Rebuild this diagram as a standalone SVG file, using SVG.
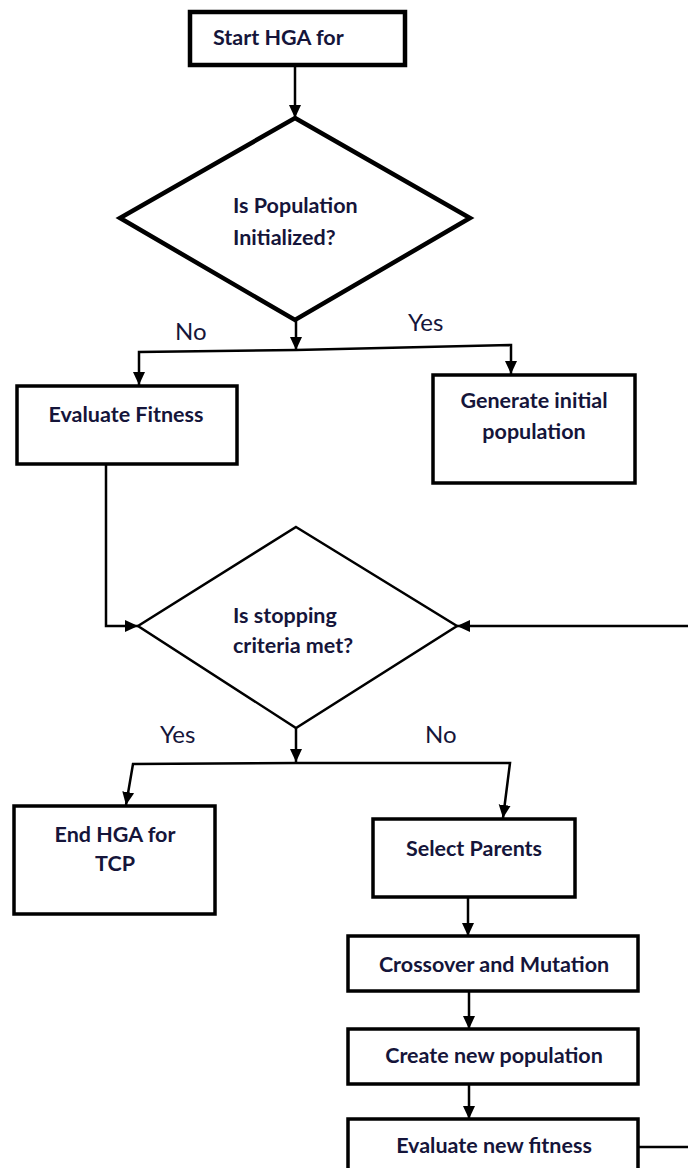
<svg xmlns="http://www.w3.org/2000/svg" width="688" height="1168" viewBox="0 0 688 1168">
<style>
.box{fill:#fff;stroke:#000;stroke-width:3.5}
.thick{stroke-width:4.5}
.dia2{fill:#fff;stroke:#000;stroke-width:2.5}
.t{font-family:Lato,"Open Sans","Liberation Sans",sans-serif;font-weight:bold;font-size:21.5px;fill:#15153a}
.c{text-anchor:middle}
.lbl{font-family:Lato,"Open Sans","Liberation Sans",sans-serif;font-size:24px;fill:#15153a}
.con{fill:none;stroke:#000;stroke-width:2.5}
</style>
<defs>
<marker id="ah" markerUnits="userSpaceOnUse" markerWidth="14" markerHeight="14" viewBox="0 0 14 14" refX="13" refY="7" orient="auto">
<path d="M0,1 L13,7 L0,13 Z" fill="#000"/>
</marker>
</defs>
<rect width="688" height="1168" fill="#fff"/>
<g id="connectors">
<path class="con" d="M295,65 V118" marker-end="url(#ah)"/>
<path class="con" d="M296,320 V350" marker-end="url(#ah)"/>
<path class="con" d="M296,350 L139,352 V385" marker-end="url(#ah)"/>
<path class="con" d="M296,350 L511,345 V374" marker-end="url(#ah)"/>
<path class="con" d="M106,464 V626 H138" marker-end="url(#ah)"/>
<path class="con" d="M638,1147 H694 V626 H457" marker-end="url(#ah)"/>
<path class="con" d="M296,728 V762" marker-end="url(#ah)"/>
<path class="con" d="M296,763 L133,764 L126,805" marker-end="url(#ah)"/>
<path class="con" d="M296,763 L510,763 L503,818" marker-end="url(#ah)"/>
<path class="con" d="M468,897 V936" marker-end="url(#ah)"/>
<path class="con" d="M469,991 V1029" marker-end="url(#ah)"/>
<path class="con" d="M469,1084 V1119" marker-end="url(#ah)"/>
</g>
<g id="start">
<rect class="box thick" x="190" y="12" width="215" height="53"/>
<text class="t" x="213" y="45">Start HGA for</text>
</g>
<g id="decision-init">
<polygon class="box thick" points="295,118 470,218 295,320 120,218"/>
<text class="t" x="233" y="213">Is Population</text>
<text class="t" x="233" y="245">Initialized?</text>
</g>
<g id="label-no-1"><text class="lbl" x="175" y="340">No</text></g>
<g id="label-yes-1"><text class="lbl" x="408" y="331">Yes</text></g>
<g id="evaluate-fitness">
<rect class="box" x="17" y="386" width="220" height="78"/>
<text class="t c" x="126" y="422">Evaluate Fitness</text>
</g>
<g id="generate-initial">
<rect class="box" x="433" y="375" width="202" height="108"/>
<text class="t c" x="534" y="408">Generate initial</text>
<text class="t c" x="534" y="439">population</text>
</g>
<g id="decision-stop">
<polygon class="dia2" points="296,527 457,626 296,728 138,626"/>
<text class="t" x="233" y="623">Is stopping</text>
<text class="t" x="233" y="653">criteria met?</text>
</g>
<g id="label-yes-2"><text class="lbl" x="160" y="743">Yes</text></g>
<g id="label-no-2"><text class="lbl" x="425" y="743">No</text></g>
<g id="end">
<rect class="box" x="14" y="806" width="201" height="108"/>
<text class="t c" x="115" y="842">End HGA for</text>
<text class="t c" x="115" y="871">TCP</text>
</g>
<g id="select-parents">
<rect class="box" x="373" y="819" width="202" height="78"/>
<text class="t c" x="474" y="856">Select Parents</text>
</g>
<g id="crossover">
<rect class="box" x="348" y="936" width="290" height="55"/>
<text class="t c" x="494" y="972">Crossover and Mutation</text>
</g>
<g id="create-population">
<rect class="box" x="348" y="1029" width="290" height="55"/>
<text class="t c" x="494" y="1063">Create new population</text>
</g>
<g id="evaluate-new">
<rect class="box" x="348" y="1119" width="290" height="70"/>
<text class="t c" x="494" y="1153">Evaluate new fitness</text>
</g>
</svg>
